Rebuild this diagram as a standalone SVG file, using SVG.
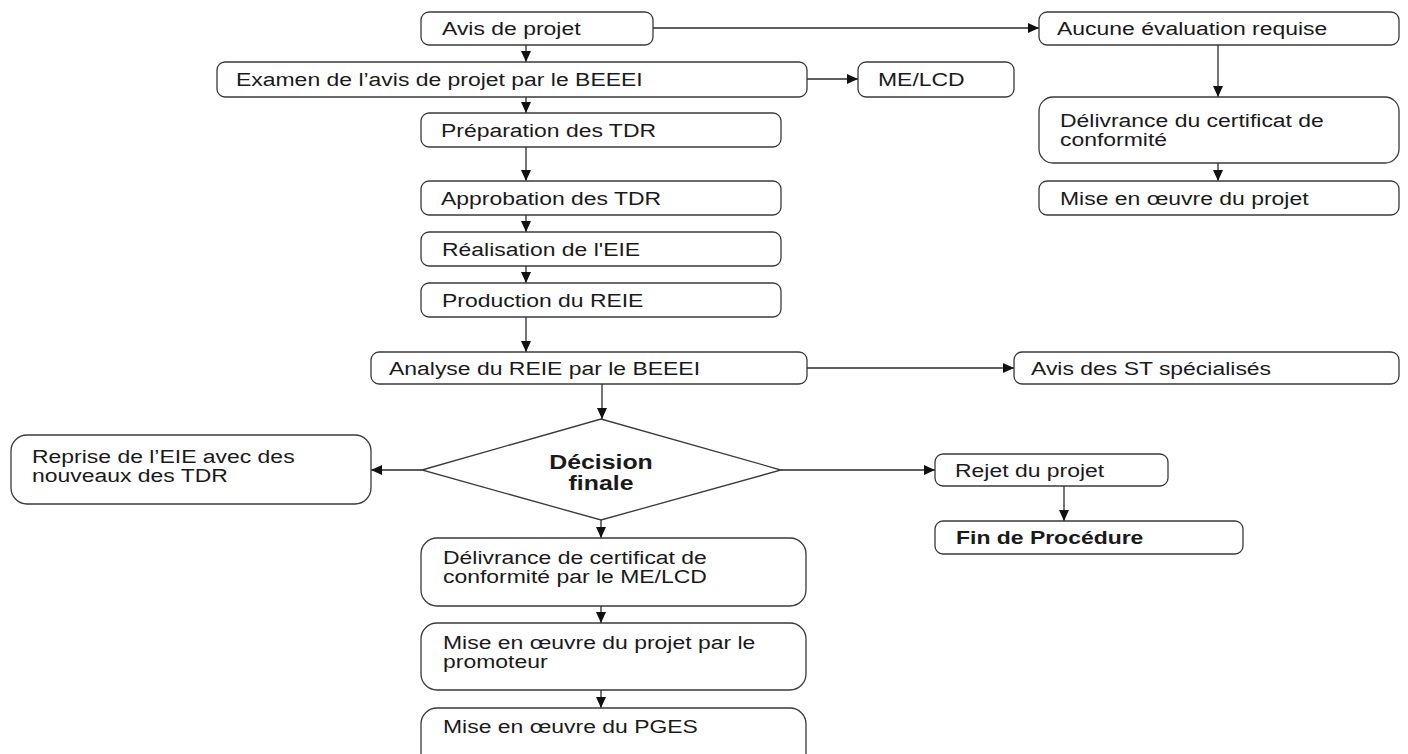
<svg xmlns="http://www.w3.org/2000/svg" width="1408" height="754" viewBox="0 0 1408 754">
<style>
  .box { fill: #ffffff; stroke: #3a3a3a; stroke-width: 1.3; }
  .t { font-family: "Liberation Sans", Arial, sans-serif; font-size: 18px; fill: #1a1a1a; }
  .b { font-weight: bold; }
  .d { font-size: 19.5px; }
  .c { fill: none; stroke: #2a2a2a; stroke-width: 1.3; marker-end: url(#arr); }
</style>
<defs>
  <marker id="arr" markerUnits="userSpaceOnUse" markerWidth="12" markerHeight="11" refX="11" refY="5" orient="auto">
    <path d="M0,0 L11,5 L0,10 z" fill="#111111"/>
  </marker>
</defs>
<rect width="1408" height="754" fill="#ffffff"/>

<g id="connectors">
  <line class="c" x1="526" y1="45" x2="526" y2="62"/>
  <line class="c" x1="653" y1="28" x2="1039" y2="28"/>
  <line class="c" x1="807" y1="79" x2="858" y2="79"/>
  <line class="c" x1="526" y1="97" x2="526" y2="113"/>
  <line class="c" x1="526" y1="147" x2="526" y2="181"/>
  <line class="c" x1="526" y1="215" x2="526" y2="232"/>
  <line class="c" x1="526" y1="266" x2="526" y2="283"/>
  <line class="c" x1="526" y1="317" x2="526" y2="352"/>
  <line class="c" x1="807" y1="368" x2="1014" y2="368"/>
  <line class="c" x1="602" y1="384" x2="602" y2="419"/>
  <line class="c" x1="422" y1="470" x2="371" y2="470"/>
  <line class="c" x1="781" y1="470" x2="935" y2="470"/>
  <line class="c" x1="1064" y1="486" x2="1064" y2="521"/>
  <line class="c" x1="601" y1="520" x2="601" y2="538"/>
  <line class="c" x1="601" y1="606" x2="601" y2="623"/>
  <line class="c" x1="601" y1="690" x2="601" y2="708"/>
  <line class="c" x1="1218" y1="45" x2="1218" y2="97"/>
  <line class="c" x1="1218" y1="163" x2="1218" y2="181"/>
</g>

<g id="avis-projet">
  <rect class="box" x="421" y="12" width="232" height="33" rx="8"/>
  <text class="t" transform="matrix(1.275 0 0 1 442 35)">Avis de projet</text>
</g>
<g id="aucune-evaluation">
  <rect class="box" x="1039" y="12" width="360" height="33" rx="8"/>
  <text class="t" transform="matrix(1.275 0 0 1 1057 35)">Aucune évaluation requise</text>
</g>
<g id="examen">
  <rect class="box" x="217" y="62" width="590" height="35" rx="8"/>
  <text class="t" transform="matrix(1.275 0 0 1 236 86)">Examen de l’avis de projet par le BEEEI</text>
</g>
<g id="me-lcd">
  <rect class="box" x="858" y="62" width="156" height="35" rx="8"/>
  <text class="t" transform="matrix(1.275 0 0 1 878 86)">ME/LCD</text>
</g>
<g id="delivrance-certificat-droite">
  <rect class="box" x="1039" y="97" width="360" height="66" rx="14"/>
  <text class="t" transform="matrix(1.275 0 0 1 1060 127)"><tspan x="0" y="0">Délivrance du certificat de</tspan><tspan x="0" y="19">conformité</tspan></text>
</g>
<g id="mise-en-oeuvre-droite">
  <rect class="box" x="1039" y="181" width="360" height="34" rx="8"/>
  <text class="t" transform="matrix(1.275 0 0 1 1060 205)">Mise en œuvre du projet</text>
</g>
<g id="preparation-tdr">
  <rect class="box" x="421" y="113" width="360" height="34" rx="8"/>
  <text class="t" transform="matrix(1.275 0 0 1 441 137)">Préparation des TDR</text>
</g>
<g id="approbation-tdr">
  <rect class="box" x="421" y="181" width="360" height="34" rx="8"/>
  <text class="t" transform="matrix(1.275 0 0 1 441 205)">Approbation des TDR</text>
</g>
<g id="realisation-eie">
  <rect class="box" x="421" y="232" width="360" height="34" rx="8"/>
  <text class="t" transform="matrix(1.275 0 0 1 442 256)">Réalisation de l'EIE</text>
</g>
<g id="production-reie">
  <rect class="box" x="421" y="283" width="360" height="34" rx="8"/>
  <text class="t" transform="matrix(1.275 0 0 1 442 307)">Production du REIE</text>
</g>
<g id="analyse-reie">
  <rect class="box" x="371" y="352" width="436" height="32" rx="8"/>
  <text class="t" transform="matrix(1.275 0 0 1 389 375)">Analyse du REIE par le BEEEI</text>
</g>
<g id="avis-st">
  <rect class="box" x="1014" y="352" width="385" height="32" rx="8"/>
  <text class="t" transform="matrix(1.275 0 0 1 1031 375)">Avis des ST spécialisés</text>
</g>
<g id="decision-finale">
  <polygon class="box" points="422,470 601,419 781,470 601,520"/>
  <text class="t b d" text-anchor="middle" transform="matrix(1.275 0 0 1 601 469)"><tspan x="0" y="0">Décision</tspan><tspan x="0" y="21">finale</tspan></text>
</g>
<g id="reprise-eie">
  <rect class="box" x="11" y="435" width="360" height="69" rx="16"/>
  <text class="t" transform="matrix(1.275 0 0 1 32 463)"><tspan x="0" y="0">Reprise de l’EIE avec des</tspan><tspan x="0" y="19">nouveaux des TDR</tspan></text>
</g>
<g id="rejet-projet">
  <rect class="box" x="935" y="454" width="233" height="32" rx="8"/>
  <text class="t" transform="matrix(1.275 0 0 1 955 477)">Rejet du projet</text>
</g>
<g id="fin-procedure">
  <rect class="box" x="935" y="521" width="308" height="33" rx="8"/>
  <text class="t b" transform="matrix(1.275 0 0 1 956 544)">Fin de Procédure</text>
</g>
<g id="delivrance-certificat">
  <rect class="box" x="421" y="538" width="385" height="68" rx="16"/>
  <text class="t" transform="matrix(1.275 0 0 1 443 564)"><tspan x="0" y="0">Délivrance de certificat de</tspan><tspan x="0" y="19">conformité par le ME/LCD</tspan></text>
</g>
<g id="mise-en-oeuvre-promoteur">
  <rect class="box" x="421" y="623" width="385" height="67" rx="16"/>
  <text class="t" transform="matrix(1.275 0 0 1 443 649)"><tspan x="0" y="0">Mise en œuvre du projet par le</tspan><tspan x="0" y="19">promoteur</tspan></text>
</g>
<g id="mise-en-oeuvre-pges">
  <rect class="box" x="421" y="708" width="385" height="68" rx="16"/>
  <text class="t" transform="matrix(1.275 0 0 1 443 733)">Mise en œuvre du PGES</text>
</g>
</svg>
